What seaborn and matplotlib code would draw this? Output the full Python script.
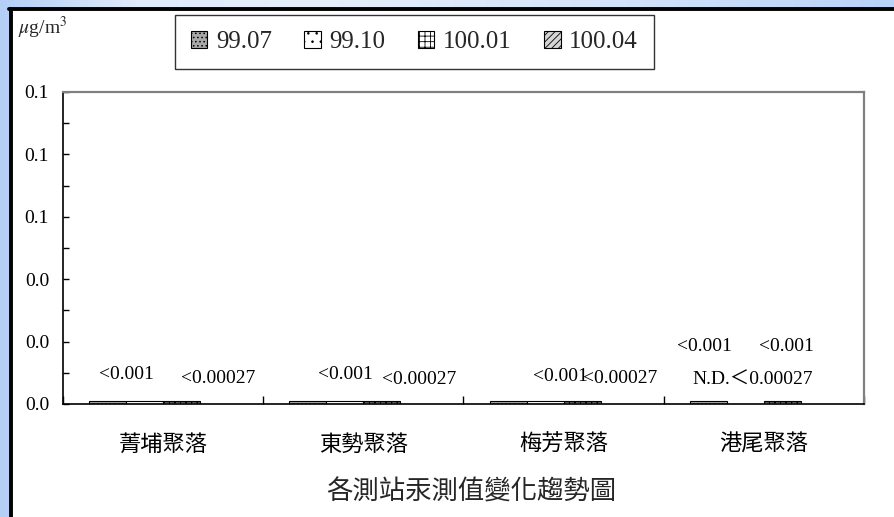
import numpy as np
import pandas as pd
import matplotlib
matplotlib.use('Agg')
import matplotlib.pyplot as plt
import seaborn as sns
from matplotlib.patches import Patch, Rectangle
from matplotlib.lines import Line2D
from matplotlib.ticker import FixedLocator, MultipleLocator, FormatStrFormatter
from matplotlib.colors import LinearSegmentedColormap

# ---------------- data ----------------
stations = ['菁埔聚落', '東勢聚落', '梅芳聚落', '港尾聚落']
periods = ['99.07', '99.10', '100.01', '100.04']
v_9907 = [0.001, 0.001, 0.001, 0.001]
v_9910 = [0.001, 0.001, 0.001, np.nan]
v_10001 = [0.001, 0.001, 0.001, 0.001]
v_10004 = [np.nan, np.nan, np.nan, np.nan]
y_ticks = [0.0, 0.02, 0.04, 0.06, 0.08, 0.10]
title = '各測站汞測值變化趨勢圖'
unit_label = r'$\mu$g/m$^3$'

# value annotations (text, category position, y value)
ann_texts = ['<0.001', '<0.00027', '<0.001', '<0.00027', '<0.001', '<0.00027',
             '<0.001', '<0.001', 'N.D.＜0.00027']
ann_x = [-0.183, 0.277, 0.911, 1.278, 1.985, 2.280, 2.701, 3.111, 2.943]
ann_y = [0.0095, 0.0082, 0.0095, 0.0080, 0.0087, 0.0083, 0.0184, 0.0184, 0.0075]

df = pd.DataFrame({
    'station': stations * 4,
    'period': [p for p in periods for _ in stations],
    'value': v_9907 + v_9910 + v_10001 + v_10004,
})

# ---------------- style ----------------
faces = ['#a8a8a8', '#ffffff', '#ffffff', '#d4d4d4']
hatches = ['....', '..', '+++', '/////']
palette = dict(zip(periods, faces))

sns.set_theme(style='white')
plt.rcParams['font.family'] = ['Liberation Serif', 'Noto Sans CJK TC', 'DejaVu Sans']
plt.rcParams['mathtext.fontset'] = 'stix'
plt.rcParams['hatch.linewidth'] = 0.6

W, H = 895, 517
fig = plt.figure(figsize=(W / 100, H / 100), dpi=100)

# background gradient (light blue frame)
bg = fig.add_axes([0, 0, 1, 1], zorder=-10)
cmap = LinearSegmentedColormap.from_list(
    'bgb', [(0, '#b4cff6'), (0.15, '#dfeafb'), (0.35, '#e6eefb'),
            (0.7, '#d2e2fa'), (1.0, '#b8d2f8')])
bg.imshow(np.linspace(0, 1, 256)[None, :], aspect='auto', cmap=cmap,
          extent=[0, 1, 0, 1])
bg.set_xlim(0, 1)
bg.set_ylim(0, 1)
bg.axis('off')

fig.patches.append(Rectangle((11 / W, 0), 1, 1 - 9 / H, transform=fig.transFigure,
                             facecolor='white', edgecolor='none', zorder=-5))
fig.lines.append(Line2D([9 / W, 1], [1 - 9 / H, 1 - 9 / H], transform=fig.transFigure,
                        color='black', lw=2.8, zorder=-4))
fig.lines.append(Line2D([11 / W, 11 / W], [0, 1 - 9 / H], transform=fig.transFigure,
                        color='black', lw=2.8, zorder=-4))

# ---------------- main axes ----------------
ax = fig.add_axes([63 / W, 113 / H, 801 / W, 312 / H])
ax.set_facecolor('white')
sns.barplot(data=df, x='station', y='value', hue='period', order=stations,
            hue_order=periods, palette=palette, width=0.74, saturation=1,
            edgecolor='black', linewidth=0.8, errorbar=None, legend=False, ax=ax)

bw = 0.74 / len(periods)
for p in ax.patches:
    xc = p.get_x() + p.get_width() / 2
    off = xc - round(xc)
    k = int(round((off + 0.74 / 2 - bw / 2) / bw))
    k = min(max(k, 0), 3)
    p.set_facecolor(faces[k])
    p.set_hatch(hatches[k])
    p.set_edgecolor('black')

ax.set_xlim(-0.5, 3.5)
ax.set_ylim(0, 0.1)
ax.set_xlabel('')
ax.set_ylabel('')

ax.yaxis.set_major_locator(FixedLocator(y_ticks))
ax.yaxis.set_major_formatter(FormatStrFormatter('%.1f'))
ax.yaxis.set_minor_locator(MultipleLocator(0.01))
ax.tick_params(axis='y', which='both', direction='in', length=4, width=1,
               left=True, color='black', labelsize=14, pad=10, labelcolor='black')

ax.set_xticks(range(len(stations)))
ax.set_xticklabels(stations, fontfamily='Noto Sans CJK TC', fontsize=16)
ax.xaxis.set_minor_locator(FixedLocator([-0.5, 0.5, 1.5, 2.5, 3.5]))
ax.tick_params(axis='x', which='major', length=0, pad=21, labelcolor='black')
ax.tick_params(axis='x', which='minor', direction='in', length=6, width=1,
               bottom=True, color='black')

for s in ['left', 'bottom']:
    ax.spines[s].set_color('black')
    ax.spines[s].set_linewidth(1.2)
for s in ['top', 'right']:
    ax.spines[s].set_color('#808080')
    ax.spines[s].set_linewidth(1.6)
    ax.spines[s].set_visible(True)

for t, x, y in zip(ann_texts, ann_x, ann_y):
    ax.text(x, y, t, ha='center', va='center', fontsize=14, color='black')

# ---------------- legend / labels ----------------
handles = [Patch(facecolor=faces[k], edgecolor='black', hatch=hatches[k], lw=0.8,
                 label=periods[k]) for k in range(len(periods))]
leg = fig.legend(handles=handles, loc='center', bbox_to_anchor=(414.5 / W, 1 - 42 / H),
                 ncol=4, frameon=True, fancybox=False, shadow=False, fontsize=18,
                 handlelength=0.65, handleheight=0.65, handletextpad=0.35,
                 columnspacing=1.3, borderpad=0.65)
leg.get_frame().set_edgecolor('black')
leg.get_frame().set_linewidth(1.0)
leg.get_frame().set_facecolor('white')

fig.text(18 / W, 1 - 28 / H, unit_label, fontsize=14, ha='left', va='center')
fig.text(471 / W, 1 - 492 / H, title, fontsize=19, ha='center', va='center',
         fontfamily='Noto Sans CJK TC')

fig.savefig('out.png', dpi=100)
